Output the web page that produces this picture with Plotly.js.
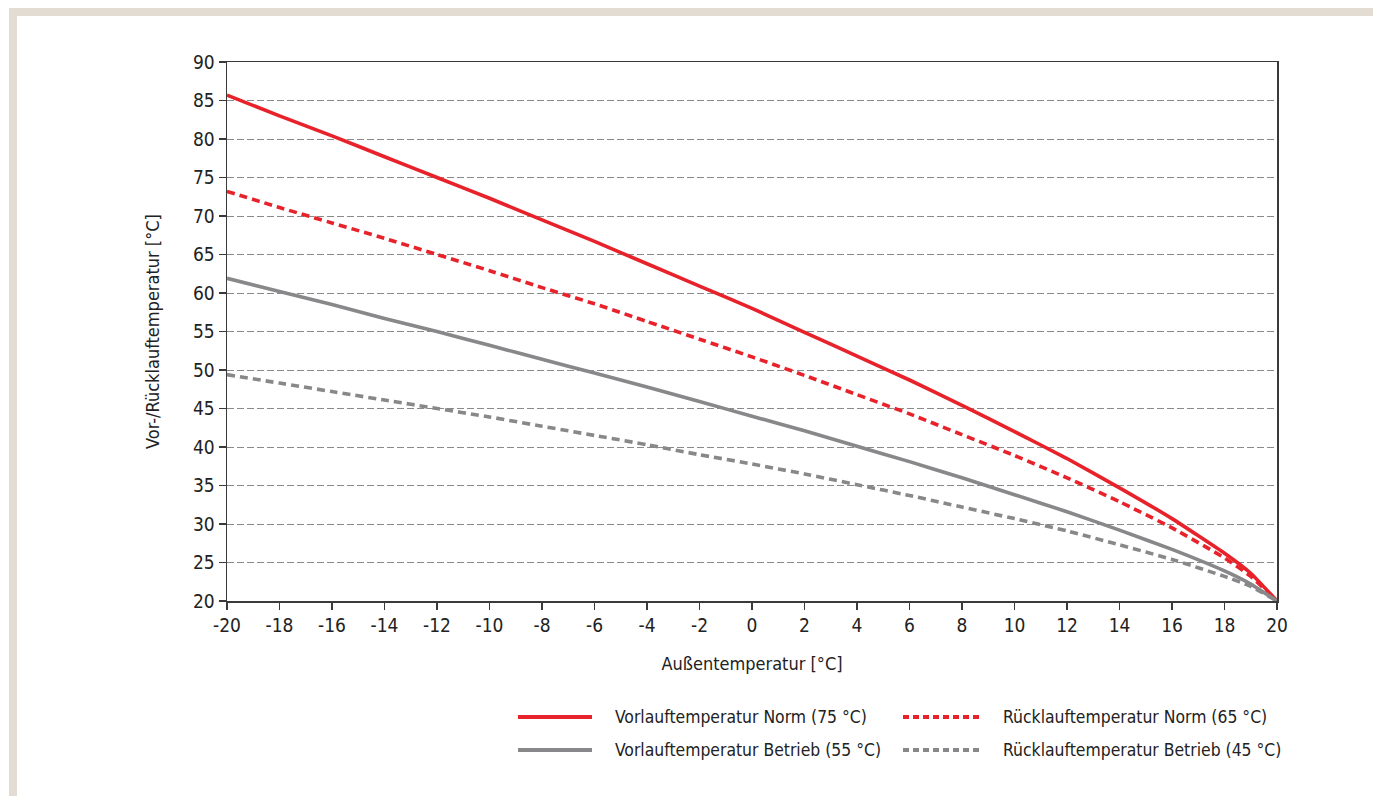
<!DOCTYPE html>
<html>
<head>
<meta charset="utf-8">
<script src="https://cdn.plot.ly/plotly-3.0.1.min.js"></script>
<style>html,body{margin:0;padding:0;background:#fff;}#chart{width:1373px;height:796px;}</style>
</head>
<body>
<div id="chart"></div>
<script>
// Außentemperatur [°C]
const outsideTemp = [-20, -18, -16, -14, -12, -10, -8, -6, -4, -2, 0, 2, 4, 6, 8, 10, 12, 14, 16, 18, 19, 20];
// Vorlauftemperatur Norm (75 °C)
const vorlaufNorm = [85.7, 83.0, 80.4, 77.7, 75.0, 72.3, 69.5, 66.7, 63.8, 60.9, 58.0, 54.9, 51.8, 48.7, 45.4, 42.0, 38.5, 34.7, 30.7, 26.2, 23.6, 20.0];
// Rücklauftemperatur Norm (65 °C)
const ruecklaufNorm = [73.2, 71.1, 69.1, 67.1, 65.0, 62.9, 60.7, 58.6, 56.3, 54.0, 51.7, 49.3, 46.8, 44.3, 41.6, 38.9, 36.0, 32.9, 29.5, 25.6, 23.2, 20.0];
// Vorlauftemperatur Betrieb (55 °C)
const vorlaufBetrieb = [61.9, 60.2, 58.5, 56.7, 55.0, 53.2, 51.4, 49.6, 47.8, 45.9, 44.0, 42.1, 40.1, 38.1, 36.0, 33.8, 31.6, 29.2, 26.7, 23.9, 22.2, 20.0];
// Rücklauftemperatur Betrieb (45 °C)
const ruecklaufBetrieb = [49.4, 48.3, 47.2, 46.1, 45.0, 43.9, 42.7, 41.5, 40.3, 39.0, 37.8, 36.5, 35.1, 33.7, 32.2, 30.7, 29.1, 27.3, 25.4, 23.2, 21.9, 20.0];

const seriesNames = [
  'Vorlauftemperatur Norm (75 °C)',
  'Rücklauftemperatur Norm (65 °C)',
  'Vorlauftemperatur Betrieb (55 °C)',
  'Rücklauftemperatur Betrieb (45 °C)'
];
const xTickVals = [-20, -18, -16, -14, -12, -10, -8, -6, -4, -2, 0, 2, 4, 6, 8, 10, 12, 14, 16, 18, 20];
const yTickVals = [20, 25, 30, 35, 40, 45, 50, 55, 60, 65, 70, 75, 80, 85, 90];

const RED = '#e8222a';
const GREY = '#88888b';
const FONT = '"Liberation Sans Narrow", "Arial Narrow", "DejaVu Sans Condensed", Arial, sans-serif';

const W = 1373, H = 796;
const M = {l: 227, r: 96, t: 62, b: 195};
const pw = W - M.l - M.r, ph = H - M.t - M.b;
const px = x => (x - M.l) / pw;
const py = y => (H - M.b - y) / ph;

const styles = [
  {color: RED, dash: 'solid'},
  {color: RED, dash: '8px,5px'},
  {color: GREY, dash: 'solid'},
  {color: GREY, dash: '8px,5px'}
];
const ys = [vorlaufNorm, ruecklaufNorm, vorlaufBetrieb, ruecklaufBetrieb];

const traces = ys.map((y, i) => ({
  x: outsideTemp, y: y, type: 'scatter', mode: 'lines', name: seriesNames[i],
  line: {color: styles[i].color, width: 3.6, dash: styles[i].dash, shape: 'spline', smoothing: 0.4},
  showlegend: false, hoverinfo: 'x+y+name'
}));

const shapes = [
  // beige frame
  {type: 'rect', xref: 'paper', yref: 'paper', x0: px(9), x1: px(1373), y0: py(8), y1: py(16), fillcolor: '#e2dcd3', line: {width: 0}, layer: 'below'},
  {type: 'rect', xref: 'paper', yref: 'paper', x0: px(9), x1: px(17), y0: py(8), y1: py(796), fillcolor: '#e2dcd3', line: {width: 0}, layer: 'below'}
];
const annotations = [];
const legendPos = [
  {x0: 518, x1: 592, tx: 613, y: 717},
  {x0: 903, x1: 980, tx: 1001, y: 717},
  {x0: 518, x1: 592, tx: 613, y: 750},
  {x0: 903, x1: 980, tx: 1001, y: 750}
];
legendPos.forEach((p, i) => {
  shapes.push({type: 'line', xref: 'paper', yref: 'paper', x0: px(p.x0), x1: px(p.x1), y0: py(p.y), y1: py(p.y),
    line: {color: styles[i].color, width: 4, dash: styles[i].dash === 'solid' ? 'solid' : '6px,4px'}});
  annotations.push({xref: 'paper', yref: 'paper', x: px(p.tx), y: py(p.y), xanchor: 'left', yanchor: 'middle',
    text: seriesNames[i], showarrow: false, font: {family: FONT, size: 17.4, color: '#222'}});
});

const layout = {
  width: W, height: H,
  margin: M,
  paper_bgcolor: '#ffffff', plot_bgcolor: 'rgba(0,0,0,0)',
  font: {family: FONT, size: 18, color: '#222'},
  showlegend: false,
  xaxis: {
    range: [-20, 20], tickvals: xTickVals, ticktext: xTickVals.map(String),
    showgrid: false, zeroline: false,
    showline: true, linecolor: '#3a3a3a', linewidth: 1.5, mirror: true,
    ticks: 'outside', ticklen: 7, tickcolor: '#3a3a3a', tickwidth: 1.3,
    tickfont: {family: FONT, size: 19, color: '#222'},
    title: {text: 'Außentemperatur [°C]', font: {family: FONT, size: 18, color: '#222'}, standoff: 22},
    automargin: false
  },
  yaxis: {
    range: [20, 90], tickvals: yTickVals, ticktext: yTickVals.map(String),
    showgrid: true, gridcolor: '#8a8a8a', gridwidth: 1, griddash: '7px,3px', zeroline: false,
    showline: true, linecolor: '#3a3a3a', linewidth: 1.5, mirror: true,
    ticks: 'outside', ticklen: 7, tickcolor: '#3a3a3a', tickwidth: 1.3,
    tickfont: {family: FONT, size: 19, color: '#222'},
    title: {text: 'Vor-/Rücklauftemperatur [°C]', font: {family: FONT, size: 18, color: '#222'}, standoff: 28},
    automargin: false
  },
  shapes: shapes,
  annotations: annotations
};

Plotly.newPlot('chart', traces, layout, {displayModeBar: false, staticPlot: true});
</script>
</body>
</html>
